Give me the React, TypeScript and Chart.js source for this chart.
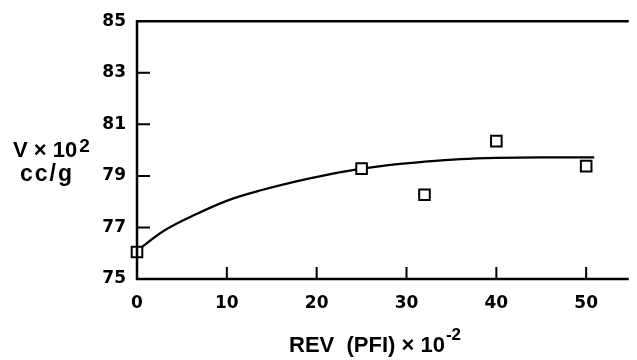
import React, { useEffect, useRef } from "react";
import { Chart, registerables } from "chart.js";

Chart.register(...registerables);

// Measured points (REV ×10^-2, V ×10^2 cc/g)
const pointX = [0, 25, 32, 40, 50];
const pointY = [76.05, 79.28, 78.27, 80.35, 79.38];

// Fitted curve
const curveX = [0, 3, 6.5, 10.2, 14, 17.5, 21, 24.5, 28, 32, 36, 40, 45, 50.9];
const curveY = [76.1, 76.87, 77.5, 78.06, 78.46, 78.77, 79.03, 79.25, 79.42, 79.55, 79.65, 79.7, 79.72, 79.72];

const xTickValues = [0, 10, 20, 30, 40, 50];
const yTickValues = [75, 77, 79, 81, 83, 85];

const X_MIN = 0;
const X_MAX = 54.6;
const Y_MIN = 75;
const Y_MAX = 85;

const framePlugin = {
  id: "framePlugin",
  afterDatasetsDraw(chart: any) {
    const { ctx, chartArea, scales } = chart;
    const x = scales.x;
    const y = scales.y;
    ctx.save();
    ctx.strokeStyle = "#000";
    ctx.lineWidth = 2.5;
    ctx.lineCap = "square";
    ctx.beginPath();
    ctx.moveTo(chartArea.left, chartArea.top);
    ctx.lineTo(chartArea.left, chartArea.bottom);
    ctx.lineTo(chartArea.right, chartArea.bottom);
    ctx.moveTo(chartArea.left, chartArea.top);
    ctx.lineTo(chartArea.right, chartArea.top);
    ctx.stroke();
    ctx.lineWidth = 2;
    ctx.lineCap = "butt";
    ctx.beginPath();
    for (const v of yTickValues) {
      if (v === Y_MIN || v === Y_MAX) continue;
      const py = y.getPixelForValue(v);
      ctx.moveTo(chartArea.left, py);
      ctx.lineTo(chartArea.left + 13, py);
    }
    for (const v of xTickValues) {
      if (v === X_MIN) continue;
      const px = x.getPixelForValue(v);
      ctx.moveTo(px, chartArea.bottom);
      ctx.lineTo(px, chartArea.bottom - 12);
    }
    ctx.stroke();
    ctx.restore();
  },
  afterDraw(chart: any) {
    const { ctx } = chart;
    ctx.save();
    ctx.fillStyle = "#000";
    ctx.textBaseline = "alphabetic";
    ctx.textAlign = "left";
    // Y title
    ctx.font = 'bold 22px "Liberation Sans"';
    const t1 = "V × 10";
    ctx.fillText(t1, 13, 157);
    const w1 = ctx.measureText(t1).width;
    ctx.font = 'bold 19px "Liberation Sans"';
    ctx.fillText("2", 13 + w1 + 2, 152);
    ctx.font = 'bold 23px "Liberation Sans"';
    (ctx as any).letterSpacing = "2px";
    ctx.fillText("cc/g", 20, 181);
    (ctx as any).letterSpacing = "0px";
    // X title
    ctx.font = 'bold 22px "Liberation Sans"';
    const t2 = "REV  (PFI) × 10";
    ctx.fillText(t2, 289, 352);
    const w2 = ctx.measureText(t2).width;
    ctx.font = 'bold 17px "Liberation Sans"';
    ctx.fillText("-2", 289 + w2 + 1, 340);
    ctx.restore();
  },
};

export default function App() {
  const ref = useRef<HTMLCanvasElement>(null);
  useEffect(() => {
    document.body.style.margin = "0";
    const canvas = ref.current!;
    const chart = new Chart(canvas, {
      type: "scatter",
      data: {
        datasets: [
          {
            type: "line",
            data: curveX.map((v, i) => ({ x: v, y: curveY[i] })),
            borderColor: "#000",
            borderWidth: 2.2,
            pointRadius: 0,
            cubicInterpolationMode: "monotone",
            fill: false,
            clip: false,
            order: 1,
          } as any,
          {
            type: "scatter",
            data: pointX.map((v, i) => ({ x: v, y: pointY[i] })),
            pointStyle: "rect",
            pointRadius: 7.5,
            pointBackgroundColor: "#fff",
            pointBorderColor: "#000",
            pointBorderWidth: 2,
            showLine: false,
            clip: false,
            order: 0,
          } as any,
        ],
      },
      options: {
        responsive: false,
        maintainAspectRatio: false,
        animation: false,
        layout: { padding: { left: 0, top: 15, right: 0, bottom: 0 } },
        plugins: {
          legend: { display: false },
          tooltip: { enabled: false },
        },
        scales: {
          x: {
            type: "linear",
            min: X_MIN,
            max: X_MAX,
            grid: { display: false, drawTicks: false },
            border: { display: false },
            afterBuildTicks: (s: any) => {
              s.ticks = xTickValues.map((v) => ({ value: v }));
            },
            afterFit: (s: any) => {
              s.height = 81;
            },
            ticks: {
              color: "#000",
              padding: 14,
              maxRotation: 0,
              font: { family: "DejaVu Sans", weight: "bold", size: 17 },
            },
          },
          y: {
            type: "linear",
            min: Y_MIN,
            max: Y_MAX,
            grid: { display: false, drawTicks: false },
            border: { display: false },
            afterBuildTicks: (s: any) => {
              s.ticks = yTickValues.map((v) => ({ value: v }));
            },
            afterFit: (s: any) => {
              s.width = 137;
            },
            ticks: {
              color: "#000",
              padding: 11,
              font: { family: "DejaVu Sans", weight: "bold", size: 17 },
            },
          },
        },
      },
      plugins: [framePlugin],
    } as any);
    return () => chart.destroy();
  }, []);
  return (
    <div style={{ position: "absolute", left: 0, top: 0, width: 637, height: 360, background: "#fff" }}>
      <canvas ref={ref} width={637} height={360} />
    </div>
  );
}
